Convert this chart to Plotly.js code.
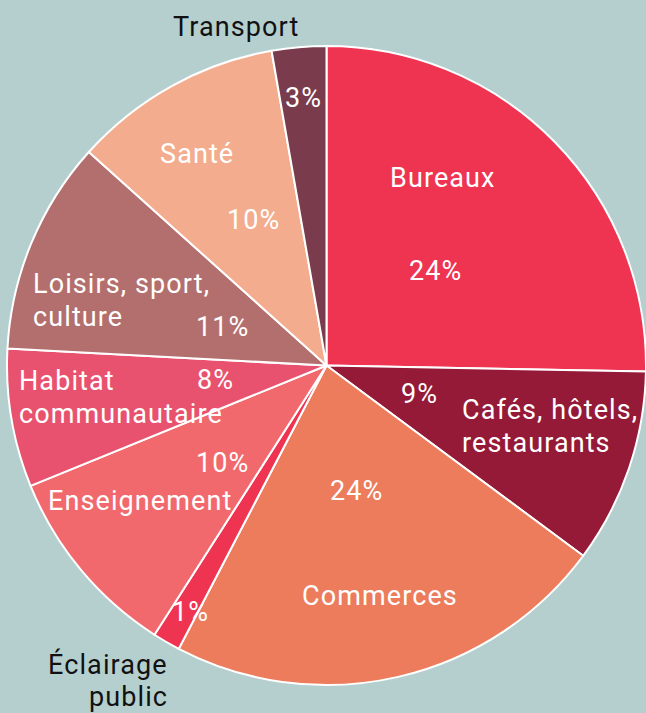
<!DOCTYPE html>
<html>
<head>
<meta charset="utf-8">
<script src="https://cdn.plot.ly/plotly-3.0.1.min.js"></script>
<style>
html,body{margin:0;padding:0;background:#b5cfcf;}
#chart{width:646px;height:713px;}
svg text{letter-spacing:1.1px;}
</style>
</head>
<body>
<div id="chart"></div>
<script>
// Data (shares; labels as printed)
const categories = ["Bureaux", "Cafés, hôtels, restaurants", "Commerces", "Éclairage public", "Enseignement", "Habitat communautaire", "Loisirs, sport, culture", "Santé", "Transport"];
const shares = [25.3, 9.85, 22.5, 1.4, 9.8, 7.0, 10.8, 10.6, 2.75];
const pctLabels = ["24%", "9%", "24%", "1%", "10%", "8%", "11%", "10%", "3%"];
const nameLines = [["Bureaux"], ["Cafés, hôtels,", "restaurants"], ["Commerces"], ["Éclairage", "public"], ["Enseignement"], ["Habitat", "communautaire"], ["Loisirs, sport,", "culture"], ["Santé"], ["Transport"]];
const colors = ["#ef3452", "#951a37", "#ec7c5c", "#ef3452", "#f2696d", "#e8526e", "#b36f6d", "#f3ad8e", "#7a3c4c"];

const W = 646, H = 713;
const FONT = "Roboto, 'Open Sans', sans-serif";
const FS = 27;

// label placement (pixels)
const namePos = [
  {x: 443, y: 178, a: "center", c: "#fff"},
  {x: 460, y: 410, a: "left", c: "#fff"},
  {x: 380, y: 596, a: "center", c: "#fff"},
  {x: 170, y: 664, a: "right", c: "#111"},
  {x: 140, y: 501, a: "center", c: "#fff"},
  {x: 17, y: 381, a: "left", c: "#fff"},
  {x: 31, y: 284, a: "left", c: "#fff"},
  {x: 197, y: 154, a: "center", c: "#fff"},
  {x: 236, y: 27, a: "center", c: "#111"}
];
const pctPos = [[435, 271], [419, 394], [356, 491], [190, 612], [222, 463], [216, 380], [222, 327], [253, 220], [303, 98]];
const LINE = 33;

const annotations = [];
function px2paper(x, y){ return {x: x / W, y: 1 - y / H}; }
categories.forEach((cat, i) => {
  const np = namePos[i];
  nameLines[i].forEach((ln, k) => {
    const p = px2paper(np.x, np.y + k * LINE);
    annotations.push({text: ln, x: p.x, y: p.y, xref: "paper", yref: "paper",
      xanchor: np.a, yanchor: "middle", showarrow: false,
      font: {family: FONT, size: FS, color: np.c}});
  });
  const q = px2paper(pctPos[i][0], pctPos[i][1]);
  annotations.push({text: pctLabels[i], x: q.x, y: q.y, xref: "paper", yref: "paper",
    xanchor: "center", yanchor: "middle", showarrow: false,
    font: {family: FONT, size: FS, color: "#fff"}});
});

const trace = {
  type: "pie",
  labels: categories,
  values: shares,
  sort: false,
  direction: "clockwise",
  rotation: 0,
  textinfo: "none",
  hoverinfo: "label+percent",
  marker: {colors: colors, line: {color: "#ffffff", width: 2}},
  domain: {x: [7 / W, 1], y: [(H - 685.5) / H, (H - 45.5) / H]}
};

const layout = {
  width: W, height: H,
  margin: {l: 0, r: 0, t: 0, b: 0, pad: 0},
  paper_bgcolor: "#b5cfcf",
  plot_bgcolor: "#b5cfcf",
  showlegend: false,
  annotations: annotations
};

Plotly.newPlot("chart", [trace], layout, {displayModeBar: false, staticPlot: true});
</script>
</body>
</html>
